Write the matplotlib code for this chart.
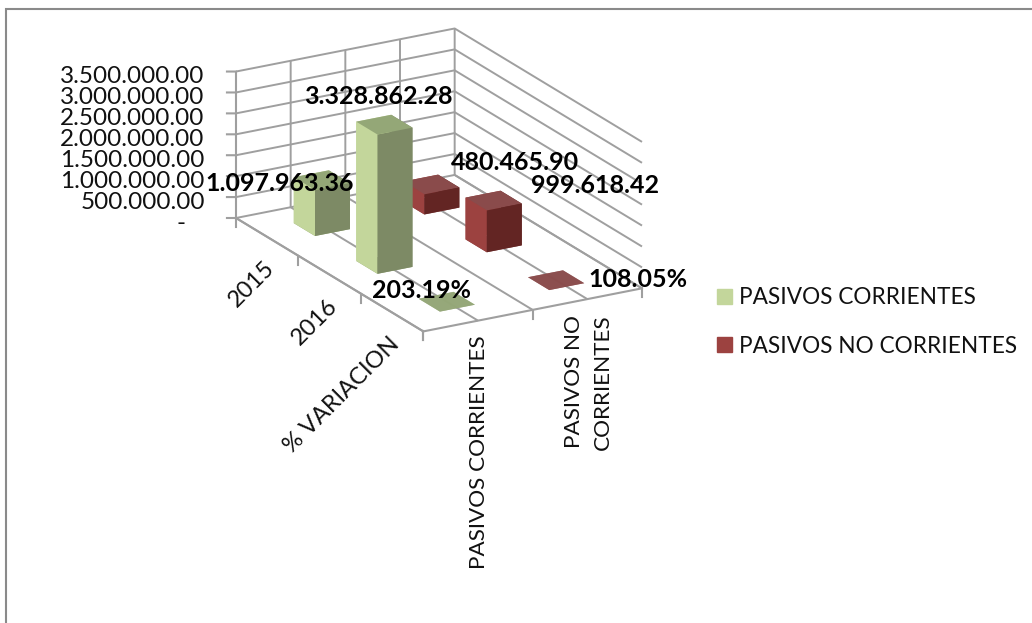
import matplotlib
matplotlib.use("Agg")
import matplotlib.pyplot as plt
from matplotlib.patches import Patch, Rectangle
from mpl_toolkits.mplot3d import proj3d

categories = ["2015", "2016", "% VARIACION"]
series_names = ["PASIVOS CORRIENTES", "PASIVOS NO\nCORRIENTES"]
legend_names = ["PASIVOS CORRIENTES", "PASIVOS NO CORRIENTES"]
corrientes = [1097963.36, 3328862.28, 203.19]
no_corrientes = [480465.90, 999618.42, 108.05]
labels_corrientes = ["1.097.963.36", "3.328.862.28", "203.19%"]
labels_no_corrientes = ["480.465.90", "999.618.42", "108.05%"]
z_ticks = [0, 500000, 1000000, 1500000, 2000000, 2500000, 3000000, 3500000]
z_labels = ["-\u2003", "500.000.00", "1.000.000.00", "1.500.000.00", "2.000.000.00",
            "2.500.000.00", "3.000.000.00", "3.500.000.00"]

W, H = 1032, 623
plt.rcParams["font.family"] = ["Lato", "DejaVu Sans"]
GRID = "#9f9f9f"
TEXT = "#111111"
GREEN = ("#c3d69b", "#94a777", "#7d8a65")
RED = ("#9c4240", "#8a4b4b", "#632523")

fig = plt.figure(figsize=(W / 100, H / 100), dpi=100, facecolor="white")
fig.add_artist(Rectangle((6.3 / W, -0.1), 1.1, 1.1 - 9.5 / H, transform=fig.transFigure,
                         fill=False, ec="#8a8a8a", lw=1.5))
ax = fig.add_axes([0, 0, 1, 1], projection="3d", computed_zorder=False)
ax.patch.set_alpha(0)
ax.set_proj_type("ortho")
ax.view_init(elev=20.2, azim=-29.7)
ax.set_xlim(0, 3)
ax.set_ylim(0, 2)
ax.set_zlim(0, 3500000)
aspect = (377, 251, 155.6)


def px(x, y, z):
    a, b, _ = proj3d.proj_transform(x, y, z, ax.get_proj())
    return ax.transData.transform((a, b))


# place the box so that its corners land where the reference has them
zoom = 1.0
ax.set_box_aspect(aspect, zoom=zoom)
fig.canvas.draw()
p0, p1 = px(0, 0, 0), px(3, 2, 0)
zoom *= (642 - 236) / (p1[0] - p0[0])
ax.set_box_aspect(aspect, zoom=zoom)
fig.canvas.draw()
p0 = px(0, 0, 0)
ax.set_position([(236 - p0[0]) / W, ((H - 218) - p0[1]) / H, 1, 1])
fig.canvas.draw()

for axis in (ax.xaxis, ax.yaxis, ax.zaxis):
    axis.set_pane_color((1, 1, 1, 0))
    axis.pane.set_edgecolor("none")
    axis.line.set_color(GRID)
    axis.line.set_linewidth(1.5)
    axis._axinfo["grid"].update(color=GRID, linewidth=1.4)
    axis._axinfo["tick"].update(inward_factor=0.0, outward_factor=0.0)
ax.xaxis.pane.set_edgecolor(GRID)
ax.xaxis.pane.set_linewidth(1.4)

ax.set_xticks([0, 1, 2, 3])
ax.set_xticklabels([])
ax.set_yticks([0, 0.5, 1, 1.5, 2])
ax.set_yticklabels([])
ax.set_zticks(z_ticks)
ax.set_zticklabels(z_labels, ha="right", va="top", fontsize=17.5, color=TEXT)
ax.zaxis.set_ticks_position("lower")
ax.tick_params(axis="z", pad=10)
ax.grid(True)
ax.xaxis._axinfo["grid"]["linewidth"] = 0

# tick marks: vertical below the floor edges, horizontal left of the value axis
drop = -9 / 146 * 3500000
for v in ax.get_xticks():
    ax.plot([v, v], [0, 0], [0, drop], color=GRID, lw=1.5, zorder=2)
for v in (0, 1, 2):
    ax.plot([3, 3], [v, v], [0, drop], color=GRID, lw=1.5, zorder=2)
for v in z_ticks:
    ax.plot([0, -0.0356], [0, -0.0623], [v, v], color=GRID, lw=1.5, zorder=2)

# category and series names, anchored on their tick positions
for i, name in enumerate(categories):
    a, b, _ = proj3d.proj_transform(i + 0.5, 0, 0, ax.get_proj())
    ax.annotate(name, xy=(a, b), xycoords="data", xytext=(4, -28), textcoords="offset pixels",
                rotation=45, rotation_mode="anchor", ha="right", va="center", fontsize=17, color=TEXT)
for i, name in enumerate(series_names):
    a, b, _ = proj3d.proj_transform(3, i + 0.5, 0, ax.get_proj())
    ax.annotate(name, xy=(a, b), xycoords="data", xytext=(1, -15), textcoords="offset pixels",
                rotation=90, ha="center", va="top", multialignment="center", linespacing=1.6,
                fontsize=16.2, color=TEXT)

BW, BD = 0.34, 0.32
order = [(0, 1, no_corrientes, RED), (1, 1, no_corrientes, RED), (2, 1, no_corrientes, RED),
         (0, 0, corrientes, GREEN), (1, 0, corrientes, GREEN), (2, 0, corrientes, GREEN)]
for z, (i, s, vals, cols) in enumerate(order, start=5):
    # faces: bottom, top, -y, +y, -x, +x
    ax.bar3d(i + 0.5 - BW / 2, s + 0.5 - BD / 2, 0, BW, BD, vals[i],
             color=[cols[1], cols[1], cols[0], cols[2], cols[0], cols[2]],
             shade=False, zorder=z, linewidth=0, alpha=0.85 if i == 2 else 1)

offsets = {("c", 0): (-42, 3), ("c", 1): (-6, -28), ("c", 2): (-25, -11),
           ("n", 0): (84, -22), ("n", 1): (101, -15), ("n", 2): (82, -1)}
for key, vals, labs, s in (("c", corrientes, labels_corrientes, 0), ("n", no_corrientes, labels_no_corrientes, 1)):
    for i in range(3):
        a, b, _ = proj3d.proj_transform(i + 0.5, s + 0.5, vals[i], ax.get_proj())
        dx, dy = offsets[(key, i)]
        ax.annotate(labs[i], xy=(a, b), xycoords="data", xytext=(dx, -dy), textcoords="offset pixels",
                    ha="center", va="center", fontsize=18, fontweight="bold", color="black", zorder=50)

handles = [Patch(color=GREEN[0]), Patch(color=RED[0])]
fig.legend(handles, legend_names, loc="center left", bbox_to_anchor=(717 / W, 1 - 322 / H), frameon=False,
           fontsize=16.3, handlelength=0.66, handleheight=0.66, handletextpad=0.31, labelspacing=1.2,
           labelcolor=TEXT, borderpad=0, borderaxespad=0)
fig.savefig("out.png", dpi=100)
